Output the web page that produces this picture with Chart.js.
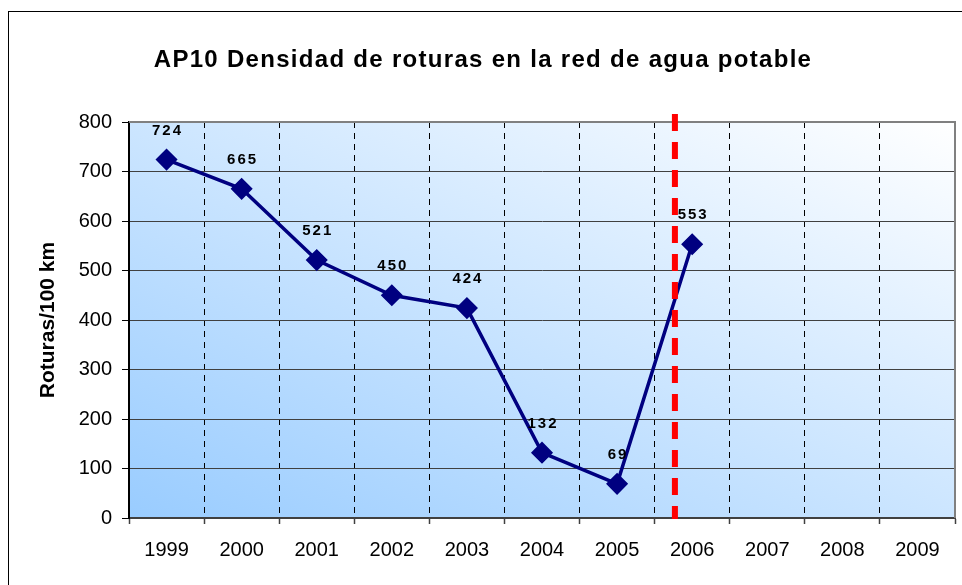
<!DOCTYPE html>
<html>
<head>
<meta charset="utf-8">
<script src="https://cdn.jsdelivr.net/npm/chart.js@4.4.1/dist/chart.umd.min.js"></script>
<style>
  html, body { margin: 0; padding: 0; background: #ffffff; }
  #wrap { width: 962px; height: 585px; position: relative; }
</style>
</head>
<body>
<div id="wrap"><canvas id="c" width="962" height="585"></canvas></div>
<script>
// ---- data ----
const chartTitle = 'AP10 Densidad de roturas en la red de agua potable';
const yAxisTitle = 'Roturas/100 km';
const years = ['1999', '2000', '2001', '2002', '2003', '2004', '2005', '2006', '2007', '2008', '2009'];
const roturas = [724, 665, 521, 450, 424, 132, 69, 553, null, null, null];
const yTicks = [0, 100, 200, 300, 400, 500, 600, 700, 800];
const dividerPosition = 6.77; // category-scale position of the red dashed divider

const FONT = "'Liberation Sans', Arial, Helvetica, sans-serif";

const decorPlugin = {
  id: 'decor',
  beforeDraw(chart) {
    const ctx = chart.ctx;
    const a = chart.chartArea;
    ctx.save();
    // outer frame
    ctx.strokeStyle = '#000000';
    ctx.lineWidth = 1;
    ctx.strokeRect(8.5, 11.5, 1200, 1200);
    // plot area gradient (normalized diagonal)
    ctx.translate(a.left, a.bottom);
    ctx.scale(a.right - a.left, -(a.bottom - a.top));
    const g = ctx.createLinearGradient(0, 0, 1, 1);
    g.addColorStop(0, '#99CCFF');
    g.addColorStop(1, '#FFFFFF');
    ctx.fillStyle = g;
    ctx.fillRect(0, 0, 1, 1);
    ctx.restore();
    // title
    ctx.save();
    ctx.font = 'bold 24px ' + FONT;
    ctx.fillStyle = '#000000';
    ctx.textAlign = 'center';
    ctx.textBaseline = 'alphabetic';
    ctx.letterSpacing = '1.3px';
    ctx.fillText(chartTitle, 483, 67);
    ctx.restore();
  },
  beforeDatasetsDraw(chart) {
    const ctx = chart.ctx;
    const a = chart.chartArea;
    ctx.save();
    ctx.strokeStyle = '#808080';
    ctx.lineWidth = 2;
    ctx.beginPath();
    ctx.moveTo(a.left, a.top);
    ctx.lineTo(a.right, a.top);
    ctx.lineTo(a.right, a.bottom);
    ctx.stroke();
    ctx.restore();
  },
  afterDatasetsDraw(chart) {
    const ctx = chart.ctx;
    const a = chart.chartArea;
    const xs = chart.scales.x;
    // red divider
    const px = xs.getPixelForValue(dividerPosition);
    ctx.save();
    ctx.strokeStyle = '#FF0000';
    ctx.lineWidth = 6;
    ctx.setLineDash([17, 11]);
    ctx.beginPath();
    ctx.moveTo(px, a.top - 8);
    ctx.lineTo(px, a.bottom + 1);
    ctx.stroke();
    ctx.restore();
    // data labels
    const meta = chart.getDatasetMeta(0);
    ctx.save();
    ctx.font = 'bold 15px ' + FONT;
    ctx.fillStyle = '#000000';
    ctx.textAlign = 'center';
    ctx.textBaseline = 'middle';
    ctx.letterSpacing = '2px';
    meta.data.forEach((pt, i) => {
      const v = roturas[i];
      if (v === null || v === undefined) return;
      ctx.fillText(String(v), pt.x + 1, pt.y - 29);
    });
    ctx.restore();
  }
};

new Chart(document.getElementById('c'), {
  type: 'line',
  data: {
    labels: years,
    datasets: [{
      data: roturas,
      borderColor: '#000080',
      backgroundColor: '#000080',
      borderWidth: 3.5,
      pointStyle: 'rectRot',
      pointRadius: 10,
      pointBorderWidth: 1.5,
      pointBackgroundColor: '#000080',
      pointBorderColor: '#000080',
      tension: 0,
      fill: false,
      spanGaps: false
    }]
  },
  options: {
    responsive: false,
    animation: false,
    events: [],
    layout: { autoPadding: false, padding: { top: 122, right: 7, left: 0, bottom: 0 } },
    plugins: {
      legend: { display: false },
      title: { display: false },
      tooltip: { enabled: false }
    },
    scales: {
      x: {
        type: 'category',
        offset: true,
        grid: {
          offset: true,
          color: '#000000',
          lineWidth: 1,
          drawTicks: true,
          tickLength: 6,
          tickColor: '#404040',
          tickWidth: 1.5,
          tickBorderDash: []
        },
        border: { display: true, color: '#404040', width: 2, dash: [6, 5] },
        ticks: {
          color: '#000000',
          font: { family: FONT, size: 20 },
          padding: 14,
          maxRotation: 0,
          autoSkip: false
        },
        afterFit(scale) {
          scale.height = 67;
          scale.paddingLeft = 0;
          scale.paddingRight = 0;
        }
      },
      y: {
        min: 0,
        max: 800,
        afterBuildTicks(scale) { scale.ticks = yTicks.map(v => ({ value: v })); },
        grid: {
          color: '#404040',
          lineWidth: 1,
          drawTicks: true,
          tickLength: 7,
          tickColor: '#000000'
        },
        border: { display: true, color: '#000000', width: 2 },
        ticks: {
          color: '#000000',
          font: { family: FONT, size: 20 },
          padding: 10
        },
        title: {
          display: true,
          text: yAxisTitle,
          color: '#000000',
          font: { family: FONT, size: 21, weight: 'bold' },
          padding: { top: 36, bottom: 0 }
        },
        afterFit(scale) { scale.width = 129; }
      }
    }
  },
  plugins: [decorPlugin]
});
</script>
</body>
</html>
